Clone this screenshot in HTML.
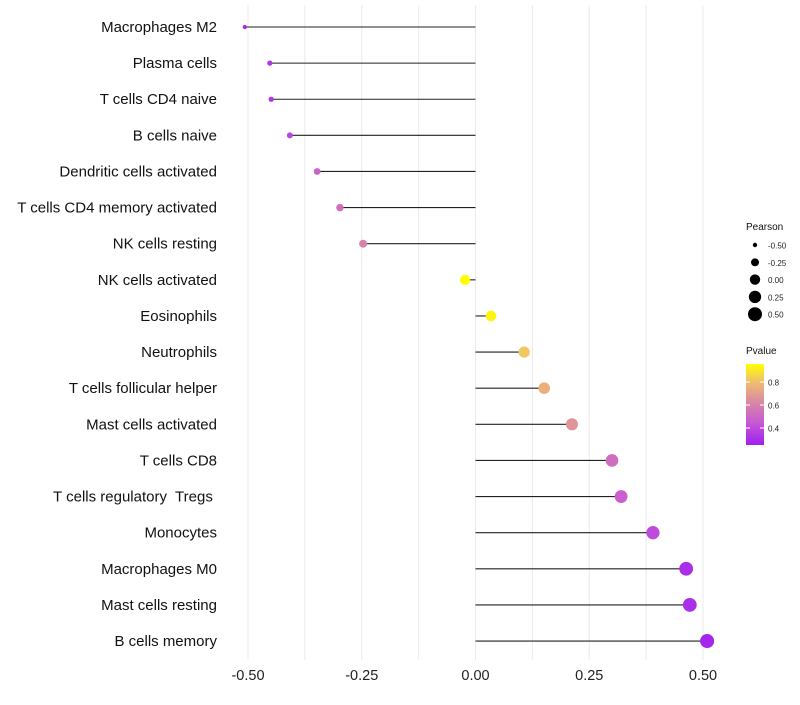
<!DOCTYPE html>
<html><head><meta charset="utf-8"><style>
body{margin:0;background:#fff;font-family:"Liberation Sans",sans-serif}
svg text{font-family:"Liberation Sans",sans-serif;white-space:pre}
</style></head><body>
<svg id="c" width="800" height="700" xmlns="http://www.w3.org/2000/svg"></svg>
<script>
const categories=["Macrophages M2","Plasma cells","T cells CD4 naive","B cells naive","Dendritic cells activated","T cells CD4 memory activated","NK cells resting","NK cells activated","Eosinophils","Neutrophils","T cells follicular helper","Mast cells activated","T cells CD8","T cells regulatory  Tregs ","Monocytes","Macrophages M0","Mast cells resting","B cells memory"];
const pearson=[-0.507,-0.452,-0.449,-0.408,-0.348,-0.298,-0.247,-0.023,0.034,0.107,0.151,0.212,0.300,0.320,0.390,0.463,0.471,0.509];
const pvalue=[0.28,0.33,0.33,0.38,0.48,0.53,0.6,0.95,0.93,0.82,0.75,0.66,0.52,0.47,0.4,0.3,0.3,0.27];
const xTicks=[-0.5,-0.25,0,0.25,0.5];
const xTickLabels=["-0.50","-0.25","0.00","0.25","0.50"];
const sizeLegend=[-0.5,-0.25,0,0.25,0.5];
const colorTicks=[0.4,0.6,0.8];

const NS="http://www.w3.org/2000/svg",svg=document.getElementById('c');
function el(t,a,p){const e=document.createElementNS(NS,t);for(const k in a)e.setAttribute(k,a[k]);(p||svg).appendChild(e);return e;}
const xs=v=>475.5+v*455;
const ys=i=>27+i*36.12;
const rs=v=>Math.sqrt(2.2*2.2+(v+0.5)*(49-4.84));
const stops=[[0.25,[160,32,240]],[0.45,[200,90,210]],[0.6,[215,130,170]],[0.8,[240,190,110]],[0.956,[255,255,0]]];
function col(p){if(p<=stops[0][0])return`rgb(${stops[0][1]})`;for(let i=1;i<stops.length;i++){if(p<=stops[i][0]){const a=stops[i-1],b=stops[i],t=(p-a[0])/(b[0]-a[0]);return`rgb(${a[1].map((c,j)=>Math.round(c+(b[1][j]-c)*t))})`;}}return`rgb(${stops[stops.length-1][1]})`;}

for(let v=-0.5;v<=0.5001;v+=0.125){const g=el('line',{x1:xs(v),x2:xs(v),y1:5,y2:660,stroke:'#ebebeb','stroke-width':1});

}
xTicks.forEach((v,i)=>{const t=el('text',{x:xs(v),y:680,'text-anchor':'middle','font-size':14.5,fill:'#222'});t.textContent=xTickLabels[i];

});
categories.forEach((c,i)=>{
const y=ys(i);
const t=el('text',{x:217,y:y+5,'text-anchor':'end','font-size':15,fill:'#111'});t.textContent=c;


const l=el('line',{x1:xs(0),x2:xs(pearson[i]),y1:y,y2:y,stroke:'#222','stroke-width':1.1});


const d=el('circle',{cx:xs(pearson[i]),cy:y,r:rs(pearson[i]),fill:col(pvalue[i])});


});
const lt=el('text',{x:746,y:230,'font-size':10,fill:'#111'});lt.textContent='Pearson';


sizeLegend.forEach((v,i)=>{const y=245+i*17.3;
const c=el('circle',{cx:755,cy:y,r:rs(v),fill:'#000'});


const t=el('text',{x:768,y:y+3.5,'font-size':8,fill:'#222'});t.textContent=xTickLabels[i];

});
const ct=el('text',{x:746,y:354,'font-size':10,fill:'#111'});ct.textContent='Pvalue';


const defs=el('defs',{});const gr=el('linearGradient',{id:'g',x1:0,y1:1,x2:0,y2:0},defs);
stops.forEach(s=>el('stop',{offset:(s[0]-0.25)/(0.956-0.25),'stop-color':`rgb(${s[1]})`},gr));
const cb=el('rect',{x:746,y:364,width:18,height:81,fill:'url(#g)'});


const cy=p=>428-(p-0.4)/0.2*23;
colorTicks.forEach(p=>{el('line',{x1:746,x2:750,y1:cy(p),y2:cy(p),stroke:'#fff'});el('line',{x1:760,x2:764,y1:cy(p),y2:cy(p),stroke:'#fff'});
const t=el('text',{x:768,y:cy(p)+3.5,'font-size':8,fill:'#222'});t.textContent=p.toFixed(1);

});
</script>
</body></html>
